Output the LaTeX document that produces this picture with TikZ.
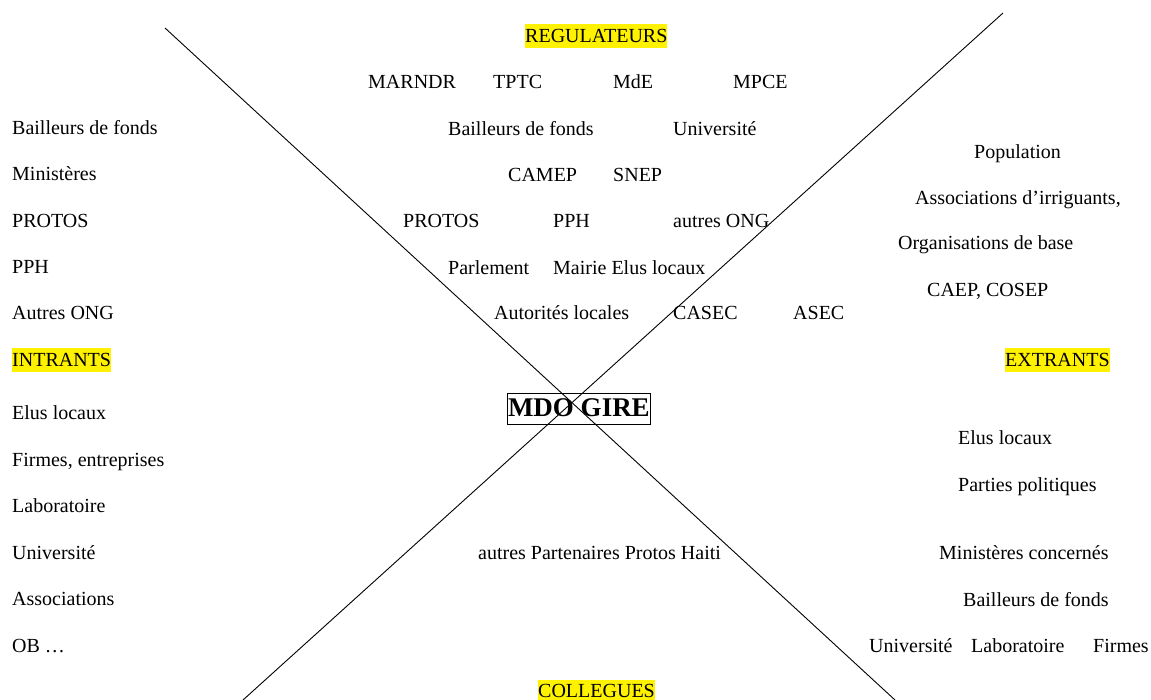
\documentclass[tikz,border=0pt]{standalone}
\usepackage{fontspec}
\setmainfont{Liberation Serif}
\begin{document}
\begin{tikzpicture}[x=1pt,y=-1pt,
  lbl/.style={anchor=base west,inner sep=0pt,yshift=-1.5pt,font=\fontsize{20}{24}\selectfont},
  hl/.style={lbl,fill=yellow,text height=18pt,text depth=5.5pt},
  core/.style={anchor=base west,draw,line width=1pt,inner xsep=0.5pt,inner ysep=0pt,
    text height=24pt,text depth=7pt,font=\fontsize{27}{30}\selectfont\bfseries},
  axis/.style={line width=0.9pt}]
\useasboundingbox (0,0) rectangle (1151,700);
% diagonals
\coordinate (d1a) at (165,28);
\coordinate (d1b) at (895,700);
\coordinate (d2a) at (1003,13);
\coordinate (d2b) at (243,700);
\draw[axis] (d1a) -- (d1b);
\draw[axis] (d2a) -- (d2b);
% headers
\node[hl] (reg) at (525,41) {REGULATEURS};
\node[hl] (intr) at (12,365) {INTRANTS};
\node[hl] (extr) at (1005,365) {EXTRANTS};
\node[hl] (col) at (538,696) {COLLEGUES};
% centre
\node[core] (mdo) at (507,417) {MDO GIRE};
% left column
\node[lbl] (l1) at (12,133) {Bailleurs de fonds};
\node[lbl] (l2) at (12,179) {Ministères};
\node[lbl] (l3) at (12,226) {PROTOS};
\node[lbl] (l4) at (12,272) {PPH};
\node[lbl] (l5) at (12,318) {Autres ONG};
\node[lbl] (l6) at (12,418) {Elus locaux};
\node[lbl] (l7) at (12,465) {Firmes, entreprises};
\node[lbl] (l8) at (12,511) {Laboratoire};
\node[lbl] (l9) at (12,558) {Université};
\node[lbl] (l10) at (12,604) {Associations};
\node[lbl] (l11) at (12,651) {OB …};
% top centre
\node[lbl] (t1) at (368,87) {MARNDR};
\node[lbl] (t2) at (493,87) {TPTC};
\node[lbl] (t3) at (613,87) {MdE};
\node[lbl] (t4) at (733,87) {MPCE};
\node[lbl] (t5) at (448,134) {Bailleurs de fonds};
\node[lbl] (t6) at (673,134) {Université};
\node[lbl] (t7) at (508,180) {CAMEP};
\node[lbl] (t8) at (613,180) {SNEP};
\node[lbl] (t9) at (403,226) {PROTOS};
\node[lbl] (t10) at (553,226) {PPH};
\node[lbl] (t11) at (673,226) {autres ONG};
\node[lbl] (t12) at (448,273) {Parlement};
\node[lbl] (t13) at (553,273) {Mairie Elus locaux};
\node[lbl] (t14) at (494,318) {Autorités locales};
\node[lbl] (t15) at (673,318) {CASEC};
\node[lbl] (t16) at (793,318) {ASEC};
% right top
\node[lbl] (r1) at (974,157) {Population};
\node[lbl] (r2) at (915,203) {Associations d’irriguants,};
\node[lbl] (r3) at (898,248) {Organisations de base};
\node[lbl] (r4) at (927,295) {CAEP, COSEP};
% right bottom
\node[lbl] (r5) at (958,443) {Elus locaux};
\node[lbl] (r6) at (958,490) {Parties politiques};
\node[lbl] (r7) at (939,558) {Ministères concernés};
\node[lbl] (r8) at (963,605) {Bailleurs de fonds};
\node[lbl] (r9) at (869,651) {Université};
\node[lbl] (r10) at (971,651) {Laboratoire};
\node[lbl] (r11) at (1093,651) {Firmes};
% bottom centre
\node[lbl] (b1) at (478,558) {autres Partenaires Protos Haiti};
\end{tikzpicture}
\end{document}
